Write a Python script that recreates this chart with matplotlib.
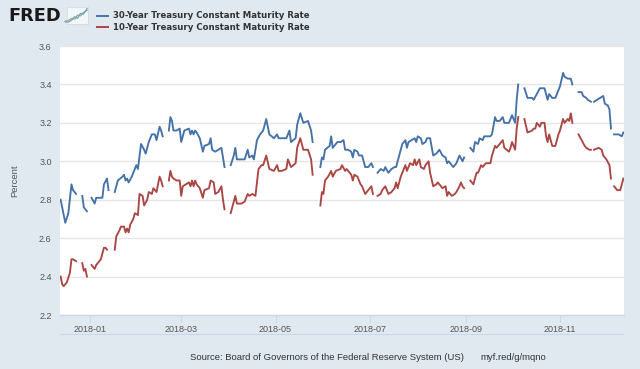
import matplotlib
matplotlib.use("Agg")
import matplotlib.pyplot as plt
import matplotlib.dates as mdates
from matplotlib.lines import Line2D
import numpy as np
import pandas as pd

title_30 = "30-Year Treasury Constant Maturity Rate"
title_10 = "10-Year Treasury Constant Maturity Rate"
source_text = "Source: Board of Governors of the Federal Reserve System (US)"
link_text = "myf.red/g/mqno"
y_label = "Percent"
y_ticks = [2.2, 2.4, 2.6, 2.8, 3.0, 3.2, 3.4, 3.6]
x_ticks = ["2018-01-01", "2018-03-01", "2018-05-01", "2018-07-01", "2018-09-01", "2018-11-01"]
x_range = ["2017-12-13", "2018-12-12"]

holidays = ["2017-12-25", "2018-01-01", "2018-01-15", "2018-02-19", "2018-03-30", "2018-05-28",
            "2018-07-04", "2018-09-03", "2018-10-08", "2018-11-12", "2018-11-22", "2018-12-05"]

dgs30_dates = [
    "2017-12-13", "2017-12-16", "2017-12-18", "2017-12-20", "2017-12-21", "2017-12-23",
    "2017-12-27", "2017-12-28", "2017-12-30",
    "2018-01-02", "2018-01-04", "2018-01-05", "2018-01-09", "2018-01-10", "2018-01-12", "2018-01-13",
    "2018-01-17", "2018-01-19", "2018-01-22", "2018-01-23", "2018-01-24", "2018-01-25", "2018-01-26",
    "2018-01-28", "2018-01-30", "2018-01-31", "2018-02-01", "2018-02-03", "2018-02-05", "2018-02-06",
    "2018-02-08", "2018-02-10", "2018-02-12", "2018-02-13", "2018-02-15", "2018-02-16", "2018-02-17",
    "2018-02-21", "2018-02-22", "2018-02-23", "2018-02-24", "2018-02-26", "2018-02-28", "2018-03-01",
    "2018-03-03", "2018-03-06", "2018-03-07", "2018-03-08", "2018-03-09", "2018-03-10", "2018-03-11",
    "2018-03-13", "2018-03-15", "2018-03-16", "2018-03-19", "2018-03-20", "2018-03-21", "2018-03-23",
    "2018-03-25", "2018-03-27", "2018-03-28", "2018-03-29",
    "2018-04-02", "2018-04-04", "2018-04-05", "2018-04-06", "2018-04-09", "2018-04-11", "2018-04-13",
    "2018-04-14", "2018-04-16", "2018-04-17", "2018-04-19", "2018-04-21", "2018-04-23", "2018-04-25",
    "2018-04-27", "2018-04-30", "2018-05-02", "2018-05-03", "2018-05-05", "2018-05-08", "2018-05-10",
    "2018-05-11", "2018-05-14", "2018-05-15", "2018-05-17", "2018-05-19", "2018-05-22", "2018-05-24",
    "2018-05-25",
    "2018-05-30", "2018-05-31", "2018-06-01", "2018-06-02", "2018-06-05", "2018-06-06", "2018-06-07",
    "2018-06-10", "2018-06-12", "2018-06-14", "2018-06-15", "2018-06-17", "2018-06-19", "2018-06-20",
    "2018-06-21", "2018-06-23", "2018-06-24", "2018-06-26", "2018-06-28", "2018-06-30", "2018-07-02",
    "2018-07-03",
    "2018-07-06", "2018-07-08", "2018-07-10", "2018-07-11", "2018-07-13", "2018-07-15", "2018-07-17",
    "2018-07-18", "2018-07-19", "2018-07-22", "2018-07-24", "2018-07-25", "2018-07-26", "2018-07-28",
    "2018-07-30", "2018-07-31", "2018-08-01", "2018-08-03", "2018-08-04", "2018-08-06", "2018-08-07",
    "2018-08-09", "2018-08-11", "2018-08-13", "2018-08-15", "2018-08-17", "2018-08-19", "2018-08-20",
    "2018-08-21", "2018-08-24", "2018-08-26", "2018-08-28", "2018-08-30", "2018-08-31",
    "2018-09-04", "2018-09-06", "2018-09-07", "2018-09-09", "2018-09-10", "2018-09-12", "2018-09-13",
    "2018-09-15", "2018-09-17", "2018-09-18", "2018-09-20", "2018-09-21", "2018-09-23", "2018-09-25",
    "2018-09-26", "2018-09-29", "2018-10-01", "2018-10-03", "2018-10-04", "2018-10-05",
    "2018-10-09", "2018-10-11", "2018-10-14", "2018-10-15", "2018-10-17", "2018-10-19", "2018-10-22",
    "2018-10-23", "2018-10-24", "2018-10-25", "2018-10-27", "2018-10-29", "2018-10-30", "2018-11-01",
    "2018-11-03", "2018-11-04", "2018-11-06", "2018-11-08", "2018-11-09",
    "2018-11-13", "2018-11-15", "2018-11-16", "2018-11-18", "2018-11-19", "2018-11-21",
    "2018-11-23", "2018-11-27", "2018-11-29", "2018-11-30", "2018-12-02", "2018-12-03", "2018-12-04",
    "2018-12-06", "2018-12-09", "2018-12-11", "2018-12-12",
]
dgs30_values = [
    2.80, 2.68, 2.73, 2.88, 2.85, 2.83,
    2.82, 2.76, 2.74,
    2.81, 2.78, 2.81, 2.81, 2.88, 2.91, 2.85,
    2.84, 2.90, 2.92, 2.93, 2.90, 2.91, 2.89,
    2.92, 2.96, 2.98, 2.96, 3.09, 3.06, 3.04,
    3.10, 3.14, 3.14, 3.11, 3.18, 3.16, 3.13,
    3.16, 3.23, 3.21, 3.16, 3.16, 3.17, 3.10,
    3.16, 3.17, 3.14, 3.16, 3.14, 3.16, 3.15,
    3.12, 3.05, 3.08, 3.09, 3.12, 3.06, 3.05,
    3.06, 3.07, 3.02, 2.97,
    2.98, 3.03, 3.07, 3.01, 3.01, 3.01, 3.06,
    3.02, 3.03, 3.01, 3.11, 3.14, 3.16, 3.22,
    3.14, 3.12, 3.14, 3.12, 3.12, 3.12, 3.16,
    3.10, 3.12, 3.19, 3.25, 3.20, 3.21, 3.16,
    3.10,
    2.97, 3.02, 3.01, 3.06, 3.08, 3.13, 3.07,
    3.10, 3.10, 3.11, 3.06, 3.06, 3.05, 3.02,
    3.06, 3.05, 3.03, 3.03, 2.97, 2.97, 2.99,
    2.97,
    2.94, 2.96, 2.95, 2.97, 2.94, 2.96, 2.97,
    2.97, 3.00, 3.09, 3.11, 3.07, 3.10, 3.11,
    3.12, 3.10, 3.13, 3.12, 3.09, 3.10, 3.12,
    3.12, 3.03, 3.04, 3.06, 3.03, 3.02, 2.99,
    3.00, 2.97, 2.99, 3.03, 3.00, 3.02,
    3.07, 3.05, 3.10, 3.09, 3.12, 3.11, 3.13,
    3.13, 3.13, 3.14, 3.23, 3.21, 3.21, 3.23,
    3.20, 3.20, 3.24, 3.20, 3.32, 3.40,
    3.38, 3.33, 3.33, 3.32, 3.35, 3.38, 3.38,
    3.35, 3.32, 3.35, 3.33, 3.33, 3.35, 3.39,
    3.46, 3.44, 3.43, 3.43, 3.40,
    3.36, 3.36, 3.34, 3.33, 3.32, 3.31,
    3.31, 3.33, 3.34, 3.30, 3.29, 3.27, 3.17,
    3.14, 3.14, 3.13, 3.15,
]

dgs10_dates = [
    "2017-12-13", "2017-12-14", "2017-12-15", "2017-12-17", "2017-12-19", "2017-12-20", "2017-12-21",
    "2017-12-23",
    "2017-12-27", "2017-12-28", "2017-12-29", "2017-12-30",
    "2018-01-02", "2018-01-04", "2018-01-05", "2018-01-08", "2018-01-10", "2018-01-11", "2018-01-12",
    "2018-01-17", "2018-01-18", "2018-01-20", "2018-01-21", "2018-01-23", "2018-01-24", "2018-01-25",
    "2018-01-26", "2018-01-27", "2018-01-29", "2018-01-30", "2018-02-01", "2018-02-02", "2018-02-04",
    "2018-02-05", "2018-02-07", "2018-02-08", "2018-02-10", "2018-02-11", "2018-02-12", "2018-02-13",
    "2018-02-15", "2018-02-16", "2018-02-17",
    "2018-02-21", "2018-02-22", "2018-02-23", "2018-02-24", "2018-02-26", "2018-02-28", "2018-03-01",
    "2018-03-02", "2018-03-04", "2018-03-06", "2018-03-07", "2018-03-08", "2018-03-09", "2018-03-10",
    "2018-03-11", "2018-03-13", "2018-03-15", "2018-03-16", "2018-03-19", "2018-03-20", "2018-03-22",
    "2018-03-23", "2018-03-25", "2018-03-27", "2018-03-28", "2018-03-29",
    "2018-04-02", "2018-04-04", "2018-04-05", "2018-04-06", "2018-04-09", "2018-04-11", "2018-04-13",
    "2018-04-14", "2018-04-16", "2018-04-18", "2018-04-20", "2018-04-22", "2018-04-23", "2018-04-25",
    "2018-04-27", "2018-04-30", "2018-05-02", "2018-05-03", "2018-05-05", "2018-05-08", "2018-05-09",
    "2018-05-11", "2018-05-14", "2018-05-15", "2018-05-17", "2018-05-19", "2018-05-22", "2018-05-24",
    "2018-05-25",
    "2018-05-30", "2018-05-31", "2018-06-01", "2018-06-02", "2018-06-04", "2018-06-06", "2018-06-07",
    "2018-06-09", "2018-06-12", "2018-06-13", "2018-06-15", "2018-06-16", "2018-06-17", "2018-06-19",
    "2018-06-20", "2018-06-21", "2018-06-23", "2018-06-25", "2018-06-26", "2018-06-28", "2018-06-30",
    "2018-07-02", "2018-07-03",
    "2018-07-06", "2018-07-08", "2018-07-09", "2018-07-11", "2018-07-13", "2018-07-15", "2018-07-17",
    "2018-07-18", "2018-07-19", "2018-07-21", "2018-07-23", "2018-07-24", "2018-07-25", "2018-07-27",
    "2018-07-29", "2018-07-30", "2018-07-31", "2018-08-02", "2018-08-03", "2018-08-05", "2018-08-06",
    "2018-08-08", "2018-08-09", "2018-08-11", "2018-08-13", "2018-08-14", "2018-08-15", "2018-08-17",
    "2018-08-19", "2018-08-20", "2018-08-21", "2018-08-23", "2018-08-25", "2018-08-26", "2018-08-28",
    "2018-08-29", "2018-08-30", "2018-08-31",
    "2018-09-04", "2018-09-06", "2018-09-08", "2018-09-09", "2018-09-11", "2018-09-12", "2018-09-14",
    "2018-09-17", "2018-09-18", "2018-09-20", "2018-09-21", "2018-09-23", "2018-09-25", "2018-09-26",
    "2018-09-29", "2018-09-30", "2018-10-01", "2018-10-03", "2018-10-04", "2018-10-05",
    "2018-10-09", "2018-10-11", "2018-10-14", "2018-10-15", "2018-10-16", "2018-10-17", "2018-10-19",
    "2018-10-20", "2018-10-22", "2018-10-23", "2018-10-24", "2018-10-25", "2018-10-27", "2018-10-29",
    "2018-10-31", "2018-11-01", "2018-11-03", "2018-11-04", "2018-11-06", "2018-11-07", "2018-11-08",
    "2018-11-09",
    "2018-11-13", "2018-11-15", "2018-11-17", "2018-11-18", "2018-11-20", "2018-11-21",
    "2018-11-23", "2018-11-26", "2018-11-28", "2018-11-29", "2018-12-01", "2018-12-03", "2018-12-04",
    "2018-12-06", "2018-12-08", "2018-12-10", "2018-12-12",
]
dgs10_values = [
    2.40, 2.36, 2.35, 2.37, 2.42, 2.49, 2.49,
    2.48,
    2.47, 2.43, 2.44, 2.40,
    2.46, 2.44, 2.46, 2.49, 2.55, 2.55, 2.54,
    2.54, 2.61, 2.64, 2.66, 2.66, 2.63, 2.65,
    2.63, 2.67, 2.70, 2.73, 2.72, 2.83, 2.82,
    2.77, 2.80, 2.84, 2.83, 2.86, 2.85, 2.84,
    2.92, 2.90, 2.87,
    2.90, 2.95, 2.92, 2.91, 2.90, 2.90, 2.82,
    2.87, 2.88, 2.89, 2.87, 2.90, 2.87, 2.90,
    2.88, 2.86, 2.81, 2.85, 2.86, 2.90, 2.89,
    2.83, 2.84, 2.87, 2.80, 2.75,
    2.73, 2.79, 2.82, 2.78, 2.78, 2.79, 2.83,
    2.82, 2.83, 2.82, 2.96, 2.98, 2.98, 3.03,
    2.96, 2.95, 2.98, 2.95, 2.95, 2.96, 3.01,
    2.97, 2.99, 3.07, 3.12, 3.06, 3.06, 3.01,
    2.93,
    2.77, 2.84, 2.83, 2.90, 2.92, 2.95, 2.92,
    2.95, 2.96, 2.98, 2.95, 2.96, 2.95, 2.93,
    2.90, 2.93, 2.92, 2.88, 2.87, 2.83, 2.85,
    2.87, 2.83,
    2.82, 2.83, 2.85, 2.87, 2.83, 2.84, 2.86,
    2.89, 2.86, 2.92, 2.96, 2.98, 2.95, 2.99,
    2.98, 3.01, 2.98, 3.01, 2.97, 2.96, 2.98,
    3.00, 2.94, 2.87, 2.88, 2.89, 2.88, 2.86,
    2.87, 2.82, 2.84, 2.82, 2.83, 2.84, 2.87,
    2.89, 2.87, 2.86,
    2.90, 2.88, 2.94, 2.94, 2.98, 2.97, 2.99,
    2.99, 3.03, 3.08, 3.07, 3.09, 3.11, 3.07,
    3.05, 3.07, 3.10, 3.06, 3.17, 3.23,
    3.22, 3.15, 3.16, 3.17, 3.17, 3.20, 3.18,
    3.20, 3.20, 3.13, 3.10, 3.14, 3.08, 3.08,
    3.14, 3.16, 3.22, 3.20, 3.22, 3.21, 3.25,
    3.20,
    3.14, 3.11, 3.08, 3.07, 3.06, 3.06,
    3.06, 3.07, 3.06, 3.03, 3.01, 2.98, 2.91,
    2.87, 2.85, 2.85, 2.91,
]

BG = "#e1e9f0"
BLUE = "#4572a7"
RED = "#aa4643"


def with_gaps(dates, values):
    s = pd.Series(values, index=pd.to_datetime(dates), dtype=float)
    gaps = pd.Series(np.nan, index=pd.to_datetime(holidays))
    return pd.concat([s, gaps]).sort_index()


s30 = with_gaps(dgs30_dates, dgs30_values)
s10 = with_gaps(dgs10_dates, dgs10_values)

fig = plt.figure(figsize=(6.4, 3.69), dpi=100, facecolor=BG)
ax = fig.add_axes([60 / 640, 1 - 315 / 369, 564 / 640, 269 / 369])
ax.set_facecolor("white")

ax.plot(s30.index, s30.values, color=BLUE, lw=1.35, solid_joinstyle="round", zorder=3)
ax.plot(s10.index, s10.values, color=RED, lw=1.35, solid_joinstyle="round", zorder=3)

ax.set_ylim(2.2, 3.6)
ax.set_yticks(y_ticks)
ax.set_yticklabels([f"{v:.1f}" for v in y_ticks])
ax.set_xlim(pd.Timestamp(x_range[0]) - pd.Timedelta(hours=10),
            pd.Timestamp(x_range[1]) + pd.Timedelta(hours=10))
ax.set_xticks(pd.to_datetime(x_ticks))
ax.xaxis.set_major_formatter(mdates.DateFormatter("%Y-%m"))

ax.grid(axis="y", color="#e6e6e6", lw=1.0, zorder=0)
for side in ["top", "right", "left"]:
    ax.spines[side].set_visible(False)
ax.spines["bottom"].set_color("#ccd6eb")
ax.spines["bottom"].set_linewidth(1.0)
ax.tick_params(axis="y", length=0, pad=6, labelsize=6.5, labelcolor="#555555")
ax.tick_params(axis="x", length=5, width=0.8, color="#ccd6eb", pad=2, labelsize=6.5,
               labelcolor="#555555")
for lab in ax.get_xticklabels() + ax.get_yticklabels():
    lab.set_family("Liberation Sans")
ax.set_ylabel(y_label, fontsize=6.8, color="#555555", family="Liberation Sans", labelpad=14)

# separator line under the x tick labels
fig.add_artist(Line2D([60 / 640, 623 / 640], [1 - 334 / 369, 1 - 334 / 369],
                      color="#ccd6eb", lw=0.8))

# FRED header
fig.text(8 / 640, 1 - 16 / 369, "FRED", fontsize=12.8, fontweight="heavy", color="#1a1a1a",
         family="DejaVu Sans", va="center", ha="left")
fig.text(63 / 640, 1 - 22 / 369, "®", fontsize=3.2, color="#1a1a1a", va="center", ha="left")
icon = fig.add_axes([67 / 640, 1 - 24 / 369, 21 / 640, 17 / 369])
icon.set_facecolor("#f4f7fa")
icon.plot([0, 0.2, 0.35, 0.5, 0.65, 0.8, 1.0], [0.2, 0.35, 0.3, 0.55, 0.5, 0.7, 0.85],
          color="#8db870", lw=0.9)
icon.plot([0, 0.2, 0.35, 0.5, 0.65, 0.8, 1.0], [0.1, 0.25, 0.45, 0.35, 0.65, 0.6, 0.95],
          color="#6f9fd0", lw=0.9)
icon.set_xlim(-0.05, 1.05)
icon.set_ylim(0, 1.05)
icon.set_xticks([])
icon.set_yticks([])
for sp in icon.spines.values():
    sp.set_color("#cfd8e0")
    sp.set_linewidth(0.5)

# legend
for yy, col, txt in [(16, BLUE, title_30), (27, RED, title_10)]:
    fig.add_artist(Line2D([97 / 640, 108 / 640], [1 - yy / 369, 1 - yy / 369], color=col, lw=1.4))
    fig.text(113 / 640, 1 - yy / 369, txt, fontsize=6.8, fontweight="bold", color="#333333",
             family="DejaVu Sans", fontstretch="condensed", va="center", ha="left")

# source line
fig.text(190 / 640, 1 - 358 / 369, source_text, fontsize=6.8, color="#333333",
         family="Liberation Sans", va="center", ha="left")
fig.text(480 / 640, 1 - 358 / 369, link_text, fontsize=6.8, color="#333333",
         family="Liberation Sans", va="center", ha="left")

fig.savefig("out.png", dpi=100, facecolor=BG)
